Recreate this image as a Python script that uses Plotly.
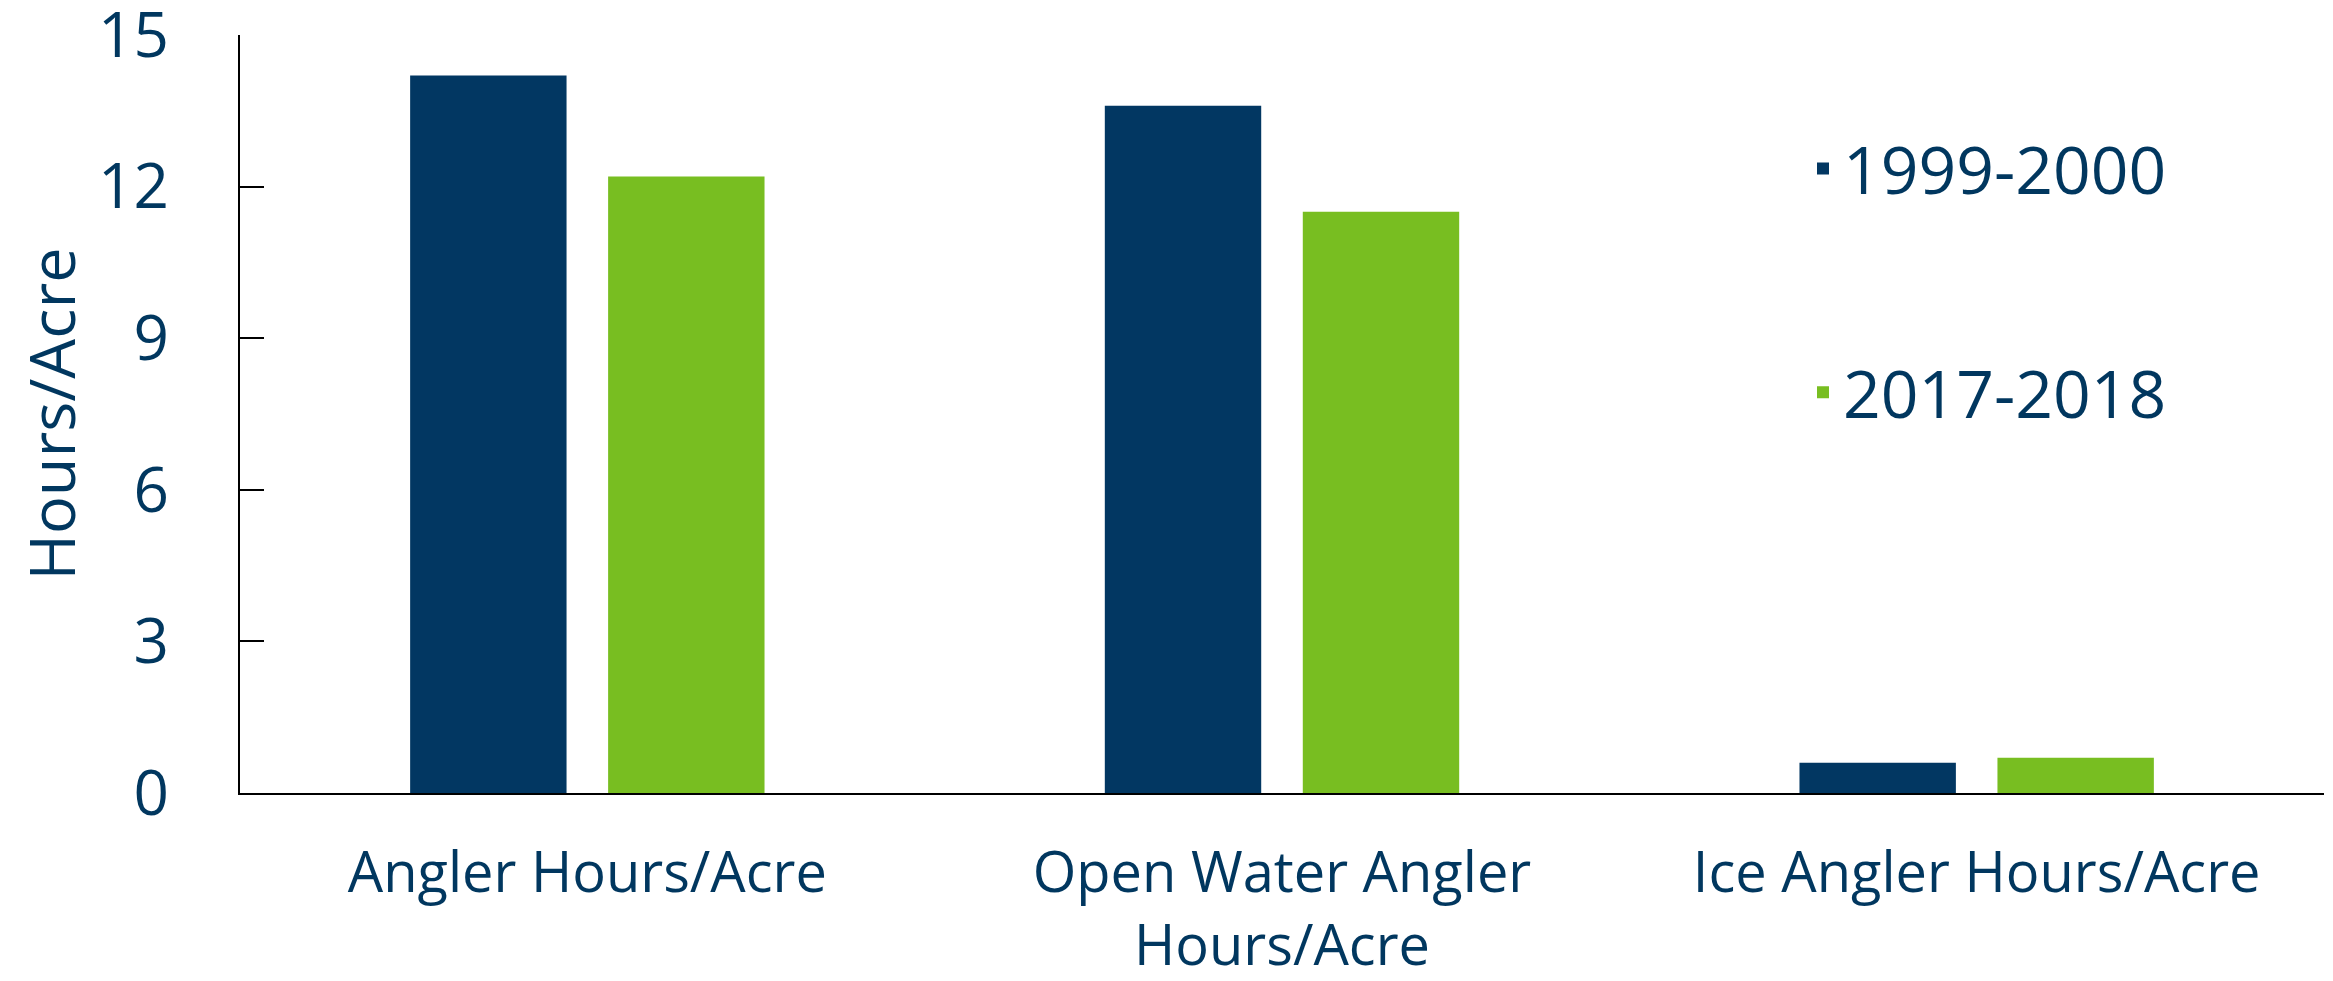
import plotly.graph_objects as go

categories = ["Angler Hours/Acre", "Open Water Angler<br>Hours/Acre", "Ice Angler Hours/Acre"]
series_names = ["1999-2000", "2017-2018"]
values_1999 = [14.2, 13.6, 0.6]
values_2017 = [12.2, 11.5, 0.7]
y_ticks = [0, 3, 6, 9, 12, 15]

NAVY = "#023762"
GREEN = "#78BE21"
TEXT = "#01375F"
FONT = "Open Sans"

fig = go.Figure()
fig.add_trace(go.Bar(x=categories, y=values_1999, name=series_names[0],
                     marker=dict(color=NAVY, line=dict(width=0)), legendgroup="a"))
fig.add_trace(go.Bar(x=categories, y=values_2017, name=series_names[1],
                     marker=dict(color=GREEN, line=dict(width=0)), legendgroup="b"))

# page body has an 8px default margin, so the figure is sized to fit the window
fig.update_layout(
    width=2325, height=973,
    margin=dict(l=232, r=9, t=27, b=188, autoexpand=False),
    plot_bgcolor="white", paper_bgcolor="white",
    barmode="group", bargap=0.43, bargroupgap=0.21,
    font=dict(family=FONT, color=TEXT),
    showlegend=True,
    legend=dict(x=0.75, xanchor="left", y=0.889, yanchor="top",
                font=dict(size=66, color=TEXT, family=FONT),
                tracegroupgap=135, traceorder="grouped",
                bgcolor="rgba(0,0,0,0)"),
)
fig.update_yaxes(
    range=[0, 15], tickvals=y_ticks, ticktext=[str(v) for v in y_ticks],
    showgrid=False, zeroline=False, automargin=False,
    showline=True, linecolor="black", linewidth=1.5,
    ticks="inside", ticklen=24, tickcolor="black", tickwidth=1.5,
    tickfont=dict(size=62, color=TEXT, family=FONT),
    ticklabelstandoff=57, ticklabeloverflow="allow",
    title=dict(text="Hours/Acre", font=dict(size=63, color=TEXT, family=FONT), standoff=22),
)
fig.update_xaxes(
    showgrid=False, zeroline=False, automargin=False,
    showline=True, linecolor="black", linewidth=2,
    ticks="", tickfont=dict(size=56, color=TEXT, family=FONT),
    ticklabelstandoff=30,
)

fig.write_html("out.html")
